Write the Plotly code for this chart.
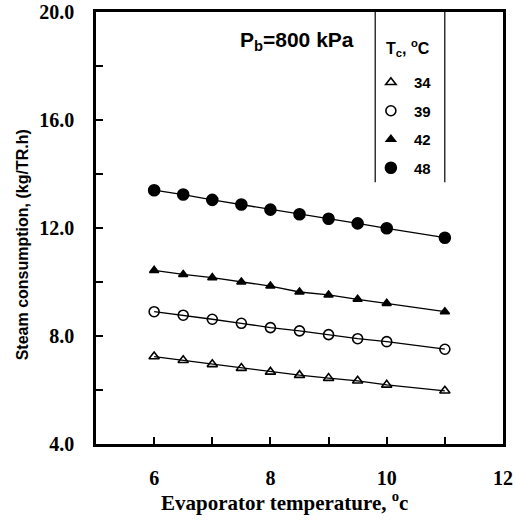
import plotly.graph_objects as go

# Data
evap_temp = [6, 6.5, 7, 7.5, 8, 8.5, 9, 9.5, 10, 11]
tc_labels = ["34", "39", "42", "48"]
tc34 = [7.24, 7.10, 6.95, 6.81, 6.67, 6.55, 6.44, 6.34, 6.19, 5.97]
tc39 = [8.90, 8.77, 8.62, 8.47, 8.31, 8.19, 8.05, 7.90, 7.79, 7.51]
tc42 = [10.43, 10.28, 10.16, 10.00, 9.85, 9.63, 9.52, 9.36, 9.21, 8.90]
tc48 = [13.40, 13.24, 13.04, 12.87, 12.68, 12.51, 12.34, 12.17, 11.99, 11.64]
series = [tc34, tc39, tc42, tc48]
symbols = ["triangle-up-open", "circle-open", "triangle-up", "circle"]
sizes = [9, 10, 8, 11]

y_ticks = [4, 8, 12, 16, 20]
y_ticktext = ["4.0", "8.0", "12.0", "16.0", "20.0"]
x_ticks = [6, 8, 10, 12]
x_ticktext = ["6", "8", "10", "12"]

fig = go.Figure()
for lab, ys, sym, sz in zip(tc_labels, series, symbols, sizes):
    fig.add_trace(go.Scatter(
        x=evap_temp, y=ys, mode="lines", legendgroup=lab,
        line=dict(color="black", width=1.3),
        showlegend=False, hoverinfo="skip"))
    fig.add_trace(go.Scatter(
        x=evap_temp, y=ys, mode="markers", name=lab, legendgroup=lab,
        marker=dict(symbol=sym, size=sz, color="black",
                    line=dict(color="black", width=1.6)),
        showlegend=True))

serif_bold = dict(family="Liberation Serif", size=20, color="black", weight="bold")
sans_bold = dict(family="Liberation Sans", color="black", weight="bold")

fig.update_layout(
    width=516, height=522,
    margin=dict(l=96, r=13, t=12, b=78),
    paper_bgcolor="white", plot_bgcolor="white",
    showlegend=True,
    legend=dict(
        x=0.668, y=0.875, xanchor="left", yanchor="top",
        bgcolor="rgba(0,0,0,0)", borderwidth=0,
        font=dict(sans_bold, size=15),
        tracegroupgap=6, traceorder="grouped", itemwidth=36,
    ),
    xaxis=dict(
        range=[5, 12], showline=True, linecolor="black", linewidth=2.5, mirror=True,
        automargin=False,
        ticks="inside", ticklen=7, tickwidth=2, tickcolor="black",
        tickvals=x_ticks, ticktext=x_ticktext, tickfont=serif_bold,
        ticklabelstandoff=14,
        minor=dict(tickvals=[7, 9, 11], ticks="inside", ticklen=7, tickwidth=2, tickcolor="black"),
        showgrid=False, zeroline=False,
    ),
    yaxis=dict(
        range=[4, 20], showline=True, linecolor="black", linewidth=2.5, mirror=True,
        automargin=False,
        ticks="inside", ticklen=7, tickwidth=2, tickcolor="black",
        tickvals=y_ticks, ticktext=y_ticktext, tickfont=serif_bold,
        ticklabelstandoff=15,
        minor=dict(tickvals=[6, 10, 14, 18], ticks="inside", ticklen=7, tickwidth=2, tickcolor="black"),
        showgrid=False, zeroline=False,
    ),
    shapes=[
        dict(type="line", xref="paper", yref="paper", x0=0.686, x1=0.686, y0=0.606, y1=1.0,
             line=dict(color="black", width=1.2)),
        dict(type="line", xref="paper", yref="paper", x0=0.857, x1=0.857, y0=0.606, y1=1.0,
             line=dict(color="black", width=1.2)),
    ],
    annotations=[
        dict(text="P<sub>b</sub>=800 kPa", xref="paper", yref="paper", x=0.494, y=0.933,
             showarrow=False, font=dict(sans_bold, size=21), xanchor="center", yanchor="middle"),
        dict(text="T<sub>c</sub>, <sup>o</sup>C", xref="paper", yref="paper", x=0.766, y=0.917,
             showarrow=False, font=dict(sans_bold, size=16), xanchor="center", yanchor="middle"),
        dict(text="Steam consumption, (kg/TR.h)", xref="paper", yref="paper", x=-0.182, y=0.462,
             showarrow=False, textangle=-90,
             font=dict(sans_bold, size=16),
             xanchor="center", yanchor="middle"),
        dict(text="Evaporator temperature, <sup>o</sup>c", xref="paper", yref="paper",
             x=0.464, y=-0.134, showarrow=False, font=dict(serif_bold, size=21),
             xanchor="center", yanchor="middle"),
    ],
)

fig.write_html("out.html", config={"displayModeBar": False},
               post_script="document.body.style.margin='0';")
